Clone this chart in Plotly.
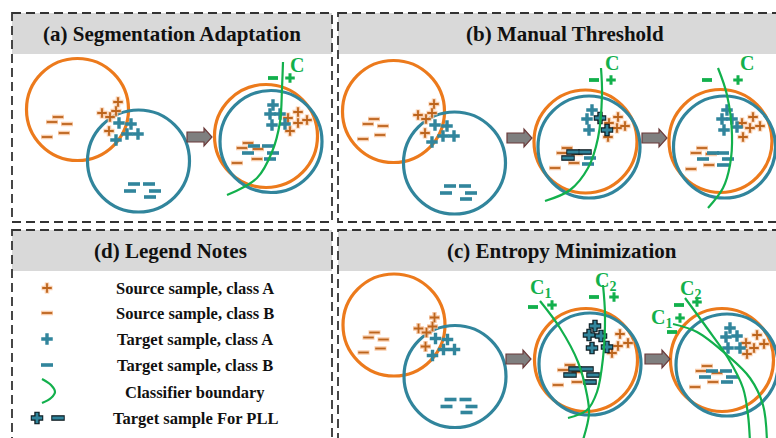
import plotly.graph_objects as go

# ---------------------------------------------------------------- colours
ORANGE = "#EC7A1C"      # source domain circle
TEAL = "#31859C"        # target domain circle / target samples
GREEN = "#12B04C"       # classifier boundary
SRC_MARK = "#BC641C"    # source sample glyphs
GLOW = "rgba(248,196,158,0.85)"
SERIF = "Times New Roman, Liberation Serif, DejaVu Serif, serif"

# ---------------------------------------------------------------- panels
panel_titles = ["(a) Segmentation Adaptation", "(b) Manual Threshold",
                "(d) Legend Notes", "(c) Entropy Minimization"]
panel_boxes = [(12, 13, 332, 222), (338, 13, 782, 222),
               (12, 230, 332, 445), (338, 230, 782, 445)]
title_x = [172, 565, 170, 562]
header_h = 41

# ---------------------------------------------------------------- initial (unaligned) domains
# positions relative to the source circle centre
init_src_plus = [(40.5, -7.5), (24.5, 3.5), (38.5, 1.5), (32.5, 7.5), (31.5, 21.5)]
init_src_minus = [(-19.5, 7.5), (-25.5, 12.5), (-10.5, 14.5), (-30.5, 27.5), (-13.5, 23.5)]
init_tgt_plus = [(41.5, 13.5), (53.5, 14.5), (49.5, 24.5), (60.5, 24.5), (38.5, 30.5)]
init_tgt_minus = [(56.5, 74.5), (71.5, 74.5), (77.5, 81.5), (72.5, 87.5), (52.5, 81.5)]
init_tgt_offset = (61, 51.5)
init_radius = 51
init_centres = [(77.5, 109.5), (393.5, 111.5), (394, 325)]

# ---------------------------------------------------------------- aligned states
# (a) after adaptation
a2_src_c, a2_tgt_c = (266, 136), (271, 141.5)
a2_src_plus = [(298, 112), (288, 118), (307, 120), (298, 123), (290, 131)]
a2_tgt_plus = [(273, 105), (270, 114), (280, 114), (272, 125), (285, 124)]
a2_src_minus = [(248, 143), (242, 148), (258, 149), (237, 163), (257, 159)]
a2_tgt_minus = [(254, 146), (268, 146), (248, 153), (273, 153), (270, 159)]
a2_boundary = [(283, 62), (282, 88), (280, 122), (272, 152), (257, 178), (227, 195)]

# (b) threshold step
b2_src_c, b2_tgt_c = (585.5, 141.5), (589, 147)
b2_src_plus = [(618, 117), (609, 123), (625, 126), (617, 128), (608, 137)]
b2_tgt_plus = [(592, 110), (587, 119), (589, 130)]
b2_pll_plus = [(600, 118), (607, 130)]
b2_src_minus = [(567, 148), (562, 153), (577, 154), (555, 168), (574, 163)]
b2_pll_minus = [(573, 152), (585, 152), (568, 158)]
b2_tgt_minus = [(590, 158), (588, 164)]
b2_boundary = [(601, 68), (602, 95), (598, 138), (588, 168), (570, 190), (545, 201)]

# (b) final
b3_src_c, b3_tgt_c = (720.5, 141), (724.5, 147)
b3_src_plus = [(753, 117), (742, 123), (760, 126), (750, 128), (743, 137)]
b3_tgt_plus = [(727, 110), (722, 119), (732, 119), (724, 130), (737, 127)]
b3_src_minus = [(702, 148), (696, 153), (711, 154), (691, 169), (709, 165)]
b3_tgt_minus = [(713, 153), (723, 153), (703, 159), (728, 159), (723, 165)]
b3_boundary = [(718, 68), (727, 95), (732, 135), (730, 165), (723, 188), (708, 208)]

# (c) entropy step
c2_src_c, c2_tgt_c = (586, 360), (590, 364)
c2_src_plus = [(620, 334), (628, 343), (618, 346), (612, 353)]
c2_pll_plus = [(595, 326), (589, 335), (601, 336), (592, 348), (607, 347)]
c2_src_minus = [(570, 365), (563, 370), (577, 372), (558, 385), (577, 382)]
c2_pll_minus = [(575, 369), (587, 369), (570, 375), (593, 375), (590, 382)]
c2_boundary1 = [(540, 301), (560, 328), (578, 362), (587, 395), (589, 414), (583, 440)]
c2_boundary2 = [(603, 285), (605, 315), (603, 358), (597, 392), (587, 410), (568, 418)]

# (c) final
c3_src_c, c3_tgt_c = (722, 360), (727, 365)
c3_src_plus = [(757, 335), (746, 343), (764, 344), (754, 348), (747, 354)]
c3_tgt_plus = [(730, 328), (726, 337), (737, 336), (728, 348), (740, 348)]
c3_src_minus = [(707, 366), (701, 371), (717, 373), (695, 387), (713, 382)]
c3_tgt_minus = [(712, 371), (726, 371), (705, 377), (732, 377), (727, 382)]
c3_boundary1 = [(673, 324), (697, 332), (727, 355), (750, 378), (763, 405), (767, 442)]
c3_boundary2 = [(685, 298), (707, 328), (728, 358), (743, 388), (748, 415), (750, 442)]

# boundary labels: (text, label pos, minus pos, plus pos)
boundary_labels = [
    ("C", (297, 65), (273, 78), (290, 78)),
    ("C", (612, 63), (594, 80), (611, 80)),
    ("C", (747, 63), (707, 80), (738, 80)),
    ("C<sub>1</sub>", (540, 288), (533, 307), (552, 305)),
    ("C<sub>2</sub>", (605, 281), (594, 297), (614, 297)),
    ("C<sub>2</sub>", (690, 289), (679, 305), (697, 302)),
    ("C<sub>1</sub>", (661, 318), (672, 332), (680, 318)),
]

arrows = [(187, 137), (507, 138), (642, 138), (506, 359), (645, 359)]

# ---------------------------------------------------------------- legend
legend_labels = ["Source sample, class A", "Source sample, class B",
                 "Target sample, class A", "Target sample, class B",
                 "Classifier boundary", "Target sample For PLL"]
legend_rows = [288, 313, 339, 365, 392, 418]
legend_arc = [(42, 379), (51, 385), (55, 392), (51, 398), (42, 403)]

fig = go.Figure()
shapes = []
annotations = []


def xs(pts):
    return [p[0] for p in pts]


def ys(pts):
    return [p[1] for p in pts]


def glyph(pts, symbol, size, width, color):
    # plotly thin symbols span 1.4 x size, so size is given in drawn pixels
    fig.add_trace(go.Scatter(
        x=xs(pts), y=ys(pts), mode="markers", hoverinfo="skip",
        marker=dict(symbol=symbol, size=size / 1.4, color=color,
                    line=dict(width=width, color=color))))


def src_plus(pts):
    glyph(pts, "cross-thin", 11, 4.5, GLOW)
    glyph(pts, "cross-thin", 9.5, 1.8, SRC_MARK)


def src_minus(pts):
    glyph(pts, "line-ew", 12, 4.5, GLOW)
    glyph(pts, "line-ew", 10.5, 1.8, SRC_MARK)


def tgt_plus(pts):
    glyph(pts, "cross-thin", 11.5, 3.4, TEAL)


def tgt_minus(pts):
    glyph(pts, "line-ew", 12, 3.6, TEAL)


def pll_plus(pts):
    glyph(pts, "cross-thin", 12.5, 5.4, "#0d1b20")
    glyph(pts, "cross-thin", 10.5, 2.8, TEAL)


def pll_minus(pts):
    glyph(pts, "line-ew", 13.5, 5.6, "#0d1b20")
    glyph(pts, "line-ew", 11.5, 3, TEAL)


def circle(c, r, color):
    shapes.append(dict(type="circle", xref="x", yref="y", layer="below",
                       x0=c[0] - r, x1=c[0] + r, y0=c[1] - r, y1=c[1] + r,
                       line=dict(color=color, width=3.2)))


def boundary(pts):
    fig.add_trace(go.Scatter(x=xs(pts), y=ys(pts), mode="lines", hoverinfo="skip",
                             line=dict(color=GREEN, width=2.2, shape="spline")))


# panel frames and headers
for title, tx, (x0, y0, x1, y1) in zip(panel_titles, title_x, panel_boxes):
    shapes.append(dict(type="rect", xref="x", yref="y", layer="below",
                       x0=x0, x1=x1, y0=y0, y1=y0 + header_h,
                       fillcolor="#D9D9D9", line=dict(width=0)))
    shapes.append(dict(type="rect", xref="x", yref="y", layer="below",
                       x0=x0, x1=x1, y0=y0, y1=y1,
                       line=dict(color="#333333", width=1.8, dash="9px,5px")))
    annotations.append(dict(x=tx, y=y0 + header_h / 2, xref="x", yref="y",
                            text="<b>%s</b>" % title, showarrow=False,
                            font=dict(family=SERIF, size=21, color="#111")))

# initial unaligned domains
for (cx, cy) in init_centres:
    circle((cx, cy), init_radius, ORANGE)
    circle((cx + init_tgt_offset[0], cy + init_tgt_offset[1]), init_radius, TEAL)
    src_minus([(cx + dx, cy + dy) for dx, dy in init_src_minus])
    src_plus([(cx + dx, cy + dy) for dx, dy in init_src_plus])
    tgt_plus([(cx + dx, cy + dy) for dx, dy in init_tgt_plus])
    tgt_minus([(cx + dx, cy + dy) for dx, dy in init_tgt_minus])

# aligned states
for sc, tc in [(a2_src_c, a2_tgt_c), (b2_src_c, b2_tgt_c), (b3_src_c, b3_tgt_c),
               (c2_src_c, c2_tgt_c), (c3_src_c, c3_tgt_c)]:
    circle(sc, 51.5, ORANGE)
    circle(tc, 51, TEAL)

for pts in [a2_src_minus, b2_src_minus, b3_src_minus, c2_src_minus, c3_src_minus]:
    src_minus(pts)
for pts in [a2_tgt_minus, b2_tgt_minus, b3_tgt_minus, c3_tgt_minus]:
    tgt_minus(pts)
for pts in [b2_pll_minus, c2_pll_minus]:
    pll_minus(pts)
for pts in [a2_src_plus, b2_src_plus, b3_src_plus, c2_src_plus, c3_src_plus]:
    src_plus(pts)
for pts in [a2_tgt_plus, b2_tgt_plus, b3_tgt_plus, c3_tgt_plus]:
    tgt_plus(pts)
for pts in [b2_pll_plus, c2_pll_plus]:
    pll_plus(pts)

for pts in [a2_boundary, b2_boundary, b3_boundary, c2_boundary1, c2_boundary2,
            c3_boundary1, c3_boundary2]:
    boundary(pts)

for text, lab, mpos, ppos in boundary_labels:
    annotations.append(dict(x=lab[0], y=lab[1], xref="x", yref="y",
                            text="<b>%s</b>" % text, showarrow=False,
                            font=dict(family=SERIF, size=20, color=GREEN)))
    glyph([mpos], "line-ew", 10, 3.8, GREEN)
    glyph([ppos], "cross-thin", 9.5, 3, GREEN)

# arrows between states
for ax, ay in arrows:
    shapes.append(dict(
        type="path", xref="x", yref="y", layer="below",
        path=("M %s %s L %s %s L %s %s L %s %s L %s %s L %s %s L %s %s Z"
              % (ax, ay - 5, ax + 17, ay - 5, ax + 17, ay - 9, ax + 25, ay,
                 ax + 17, ay + 9, ax + 17, ay + 5, ax, ay + 5)),
        fillcolor="#7F7F7F", line=dict(color="#6B3A3A", width=1.2)))

# legend panel content
src_plus([(47, legend_rows[0])])
src_minus([(47, legend_rows[1])])
tgt_plus([(47, legend_rows[2])])
tgt_minus([(47, legend_rows[3])])
boundary(legend_arc)
pll_plus([(37, legend_rows[5])])
pll_minus([(58, legend_rows[5])])
for label, ry in zip(legend_labels, legend_rows):
    annotations.append(dict(x=195, y=ry, xref="x", yref="y",
                            text="<b>%s</b>" % label, showarrow=False,
                            font=dict(family=SERIF, size=16.5, color="#111")))

fig.update_layout(
    width=776, height=438, margin=dict(l=0, r=0, t=0, b=0),
    paper_bgcolor="white", plot_bgcolor="white", showlegend=False,
    font=dict(family=SERIF),
    xaxis=dict(range=[0, 776], visible=False, fixedrange=True),
    yaxis=dict(range=[438, 0], visible=False, fixedrange=True),
    shapes=shapes, annotations=annotations,
)

fig.write_html("out.html")
